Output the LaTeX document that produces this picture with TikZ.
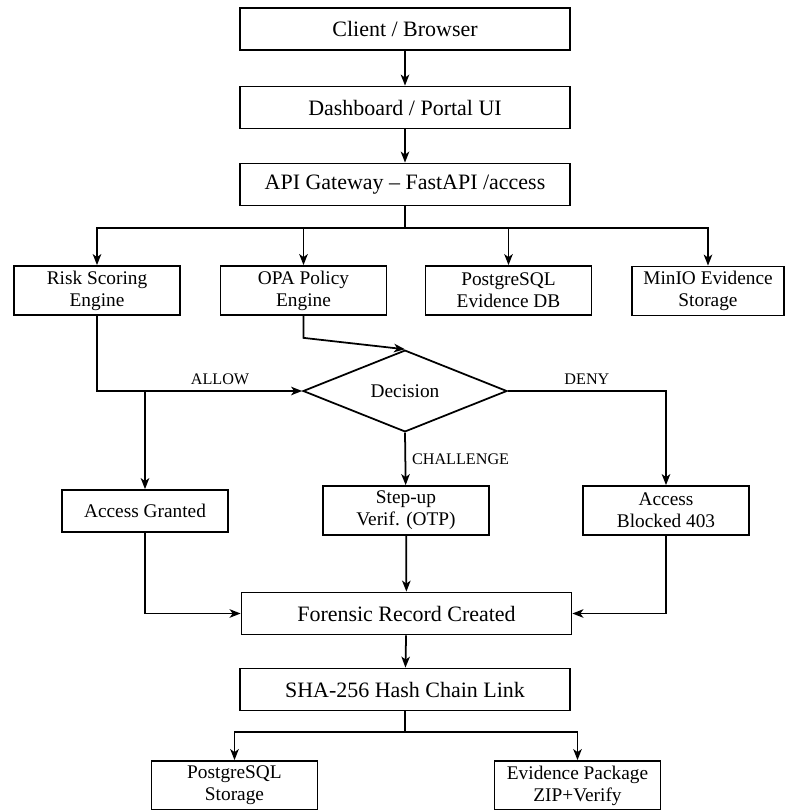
\documentclass[tikz,border=0pt]{standalone}
\usepackage{fontspec}
\setmainfont{Liberation Serif}
\usetikzlibrary{arrows,arrows.meta,calc,shapes.geometric}

\begin{document}
\begin{tikzpicture}[>={Stealth[length=2.2mm,width=1.7mm,inset=0.6mm]},line width=1pt,
  WideBox/.style={draw,minimum width=6.6cm,minimum height=0.84cm,inner sep=2pt,
    font=\fontsize{12.5}{15}\selectfont},
  SmallBox/.style={draw,align=center,minimum width=3.32cm,minimum height=0.98cm,inner sep=2pt,
    font=\fontsize{11}{12.5}\selectfont},
  DecideBox/.style={draw,diamond,minimum width=4.08cm,minimum height=1.3cm,inner sep=0pt,
    font=\fontsize{11}{12.5}\selectfont},
  EdgeLbl/.style={font=\fontsize{9.2}{11}\selectfont}]
\useasboundingbox (0,0) rectangle (15.7,-16.2);

\node[WideBox] (client) at (8.1,-0.58) {Client / Browser};
\node[WideBox] (dash) at (8.1,-2.15) {Dashboard / Portal UI};
\node[WideBox] (api) at (8.1,-3.69) {API Gateway – FastAPI /access};

\node[SmallBox] (risk) at (1.94,-5.81) {Risk Scoring\\Engine};
\node[SmallBox] (opa) at (6.07,-5.81) {OPA Policy\\Engine};
\node[SmallBox] (pgdb) at (10.17,-5.81) {PostgreSQL\\Evidence DB};
\node[SmallBox,minimum width=3.04cm] (minio) at (14.16,-5.82) {MinIO Evidence\\Storage};

\node[DecideBox] (decision) at (8.1,-7.82) {Decision};

\node[SmallBox,minimum height=0.84cm] (granted) at (2.9,-10.22) {Access Granted};
\node[SmallBox] (stepup) at (8.12,-10.21) {Step-up\\Verif. (OTP)};
\node[SmallBox] (blocked) at (13.32,-10.21) {Access\\Blocked 403};

\node[WideBox] (forensic) at (8.13,-12.27) {Forensic Record Created};
\node[WideBox] (hash) at (8.1,-13.79) {SHA-256 Hash Chain Link};

\node[SmallBox] (pgstore) at (4.69,-15.71) {PostgreSQL\\Storage};
\node[SmallBox] (evpkg) at (11.55,-15.71) {Evidence Package\\ZIP+Verify};

\coordinate (split) at (8.1,-4.56);
\coordinate (allowJ) at (2.9,-7.82);
\coordinate (split2) at (8.1,-14.64);

\draw[->] (client) -- (dash);
\draw[->] (dash) -- (api);
\draw (api) -- (split);
\draw[->] (split) -| (risk);
\draw[->] (split) -| (opa);
\draw[->] (split) -| (pgdb);
\draw[->] (split) -| (minio);

\draw[->] (risk.south) |- (decision.west) node[EdgeLbl,pos=0.8,above] {ALLOW};
\draw[->] (allowJ) -- (granted);
\draw[->] (opa.south) -- ++(0,-0.44) -- (decision.north);
\draw[->] (decision.east) -| (blocked) node[EdgeLbl,pos=0.25,above] {DENY};
\draw[->] (decision.south) -- (stepup) node[EdgeLbl,midway,right] {CHALLENGE};

\draw[->] (granted) |- (forensic);
\draw[->] (stepup) -- (forensic);
\draw[->] (blocked) |- (forensic);
\draw[->] (forensic) -- (hash);

\draw (hash) -- (split2);
\draw[->] (split2) -| (pgstore);
\draw[->] (split2) -| (evpkg);
% \draw[help lines] (0,0) grid (15.7,-16.2);

\end{tikzpicture}
\end{document}
